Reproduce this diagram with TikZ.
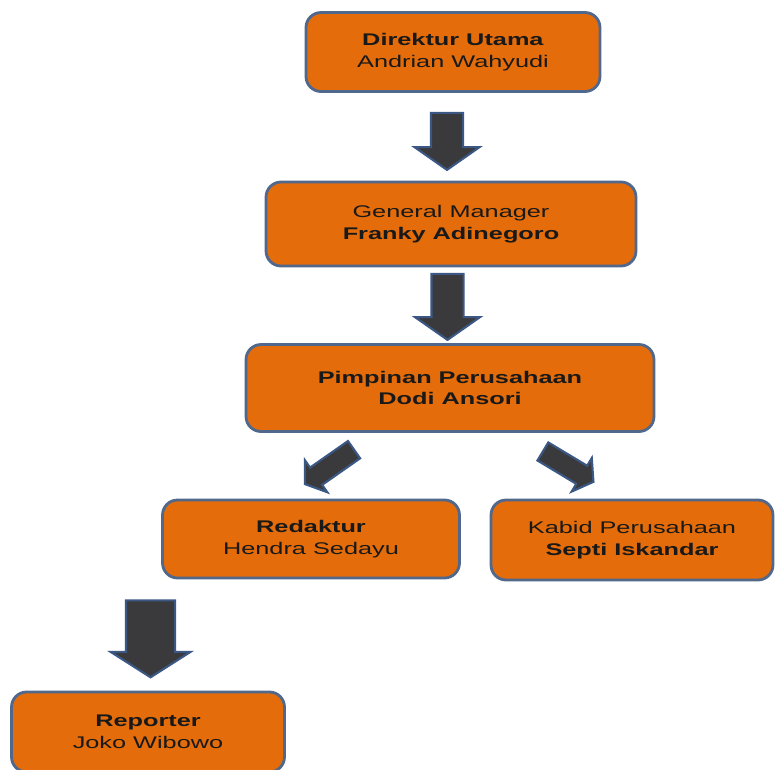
\documentclass[tikz,border=0pt]{standalone}
\usepackage{fontspec}
\setmainfont{Liberation Sans}
\newfontfamily\orgfont[FakeStretch=1.5]{Liberation Sans}
\usepackage{tikz}
\usetikzlibrary{arrows.meta,positioning,shapes.arrows,calc}
\definecolor{orgfill}{RGB}{228,108,10}
\definecolor{orgedge}{RGB}{79,104,140}
\definecolor{arrfill}{RGB}{58,58,60}
\definecolor{arredge}{RGB}{59,88,132}

\begin{document}
\begin{tikzpicture}[x=0.02cm, y=-0.02cm,
    orgbox/.style={rectangle, rounded corners=0.3cm, draw=orgedge, line width=1.6pt,
                   fill=orgfill, align=center, text=black!90,
                   font=\orgfont\fontsize{9.6}{12.4}\selectfont},
    bigarrow/.style={single arrow, draw=arredge, fill=arrfill, line width=1.2pt,
                     inner xsep=0pt, inner ysep=0.3cm, single arrow head extend=0.33cm,
                     single arrow tip angle=110, minimum height=1.2cm},
    slantarrow/.style={bigarrow, inner ysep=0.19cm, single arrow head extend=0.18cm}
  ]
    \useasboundingbox (0,0) rectangle (775,769);

    % Boxes
    \node[orgbox, minimum width=5.88cm, minimum height=1.58cm] (dirut) at (453,52)
        {\textbf{Direktur Utama}\\Andrian Wahyudi};
    \node[orgbox, minimum width=7.4cm, minimum height=1.68cm]  (gm)    at (451,224)
        {General Manager\\\textbf{Franky Adinegoro}};
    \node[orgbox, minimum width=8.16cm, minimum height=1.74cm] (pimp)  at (450,388)
        {\textbf{Pimpinan Perusahaan}\\\textbf{Dodi Ansori}};
    \node[orgbox, minimum width=5.94cm, minimum height=1.56cm] (redak) at (311,539)
        {\textbf{Redaktur}\\Hendra Sedayu};
    \node[orgbox, minimum width=5.64cm, minimum height=1.6cm]  (kabid) at (632,540)
        {Kabid Perusahaan\\\textbf{Septi Iskandar}};
    \node[orgbox, minimum width=5.46cm, minimum height=1.6cm]  (repo)  at (148,732)
        {\textbf{Reporter}\\Joko Wibowo};

    % Arrows
    \node[bigarrow, rotate=-90, minimum height=1.14cm] (a1)
        at ($(dirut.south)!0.5!(gm.north)+(-5,-1)$) {};
    \node[bigarrow, rotate=-90, minimum height=1.32cm] (a2)
        at ($(gm.south)!0.5!(pimp.north)+(-3,-4)$) {};
    \node[slantarrow, rotate=215, minimum height=1.2cm] (a3)
        at ($(pimp.south)!0.5!(redak.north)+(-48,-1)$) {};
    \node[slantarrow, rotate=-31, minimum height=1.18cm] (a4)
        at ($(pimp.south)!0.5!(kabid.north)+(24,-1)$) {};
    \node[bigarrow, rotate=-90, inner ysep=0.47cm, single arrow head extend=0.31cm,
          single arrow tip angle=115, minimum height=1.54cm] (a5)
        at ($(redak.south west)!0.5!(repo.north)+(-4,-4)$) {};
  \end{tikzpicture}
\end{document}
